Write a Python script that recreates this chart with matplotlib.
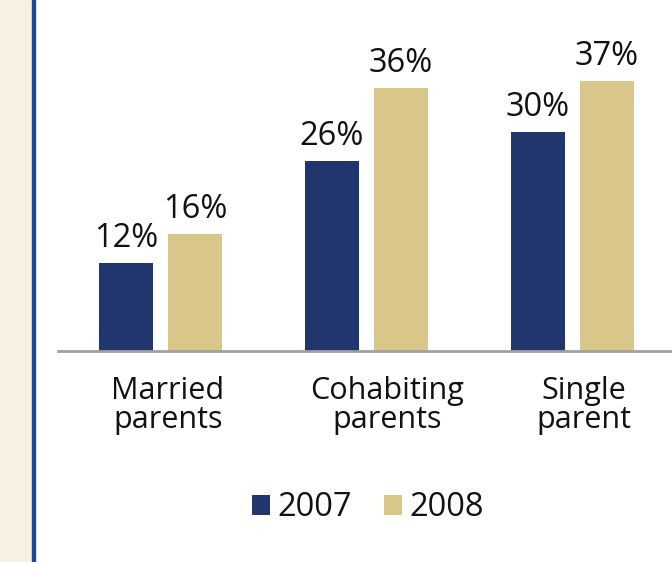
import matplotlib.pyplot as plt
from matplotlib.patches import Rectangle
import numpy as np

plt.rcParams['font.family'] = ['Open Sans', 'DejaVu Sans']

categories = ['Married\nparents', 'Cohabiting\nparents', 'Single\nparent']
years = ['2007', '2008']
vals_2007 = [12, 26, 30]
vals_2008 = [16, 36, 37]
colors = ['#22366E', '#D9C78A']

W, H = 672, 562
fig = plt.figure(figsize=(W / 100, H / 100), dpi=100)

# left beige panel and blue rule
fig.patches.append(Rectangle((0, 0), 32 / W, 1, transform=fig.transFigure,
                             color='#F8F0E3', zorder=0))
fig.patches.append(Rectangle((32 / W, 0), 3 / W, 1, transform=fig.transFigure,
                             color='#1C4A9A', zorder=0))

# axes: baseline at y=351px, left at x=58px, runs off the right edge
ax = fig.add_axes([58 / W, (H - 351) / H, (W - 58) / W, 351 / H])
ax.set_facecolor('none')

x = np.arange(len(categories))
off = 34.5 / 206
bw = 54 / 206
b1 = ax.bar(x - off, vals_2007, bw, color=colors[0], label=years[0])
b2 = ax.bar(x + off, vals_2008, bw, color=colors[1], label=years[1])

for bars in (b1, b2):
    for b in bars:
        ax.annotate('{}%'.format(int(b.get_height())),
                    (b.get_x() + b.get_width() / 2, b.get_height()),
                    xytext=(0, 11.5), textcoords='offset points',
                    ha='center', va='baseline', fontsize=23.5, color='#111111')

ax.set_xlim(-(160.5 - 58) / 206, (672 - 160.5) / 206)
ax.set_ylim(0, 351 / 7.3)

for s in ['top', 'right', 'left']:
    ax.spines[s].set_visible(False)
ax.spines['bottom'].set_color('#A0A0A0')
ax.spines['bottom'].set_linewidth(2)
ax.set_yticks([])
# labels sit slightly right of the group centres in the original
label_shift = np.array([7.5, 21, 11]) / 206
ax.set_xticks(x + label_shift)
ax.set_xticklabels(categories, fontsize=22, linespacing=0.95, color='#111111')
ax.tick_params(axis='x', length=0, pad=18)

leg = fig.legend(handles=[b1, b2], labels=years, loc='center',
                 bbox_to_anchor=(368 / W, (H - 508) / H), ncol=2,
                 frameon=False, fontsize=23.5, handlelength=0.55,
                 handleheight=0.55, handletextpad=0.22, columnspacing=1.0)
for t in leg.get_texts():
    t.set_color('#111111')

fig.savefig('out.png', dpi=100)
